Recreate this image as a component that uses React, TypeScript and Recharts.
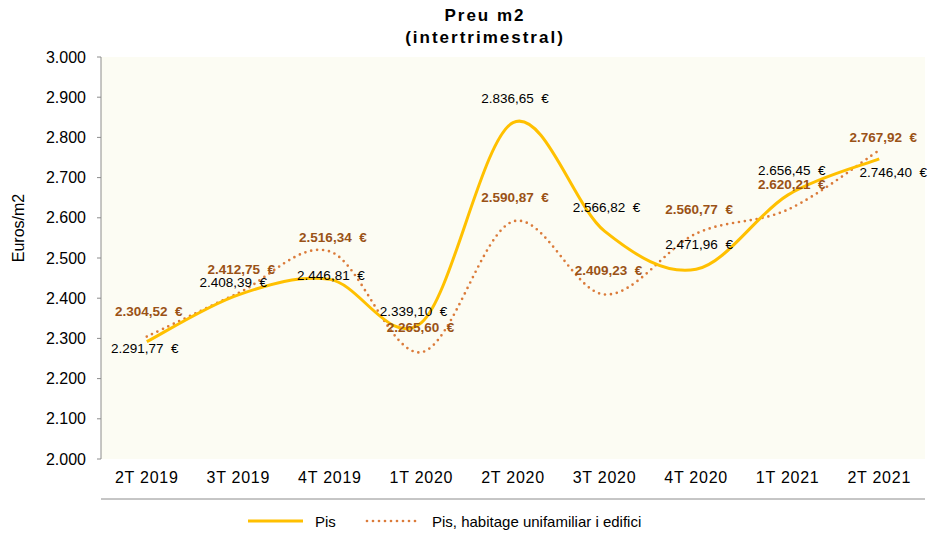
import React from "react";
import { LineChart, Line, XAxis, YAxis, CartesianGrid, LabelList } from "recharts";

const quarters = ["2T 2019", "3T 2019", "4T 2019", "1T 2020", "2T 2020", "3T 2020", "4T 2020", "1T 2021", "2T 2021"];
const pisValues = [2291.77, 2408.39, 2446.81, 2339.1, 2836.65, 2566.82, 2471.96, 2656.45, 2746.4];
const unifamiliarValues = [2304.52, 2412.75, 2516.34, 2265.6, 2590.87, 2409.23, 2560.77, 2620.21, 2767.92];
const yTicks = [2000, 2100, 2200, 2300, 2400, 2500, 2600, 2700, 2800, 2900, 3000];

const data = quarters.map((q, i) => ({ idx: i, quarter: q, pis: pisValues[i], uni: unifamiliarValues[i] }));
const categoryTicks = quarters.map((_, i) => i);
const boundaryTicks = [...quarters.map((_, i) => i - 0.5), quarters.length - 0.5];

// label offsets from the point (label centre), as placed in the original
const pisLabelOffsets = [[-2, 7], [-5, -12], [1, -4], [-8, -11], [2, -24], [2, -24], [3, -25], [4, -25], [14, 14]];
const uniLabelOffsets = [[2, -25], [3, -24], [3, -14], [-1, -25], [2, -24], [4, -24], [3, -24], [4, -25], [4, -13]];

const FONT = "'Liberation Sans', Arial, sans-serif";
const YELLOW = "#FFC000";
const DOTTED = "#DB7B3A";
const BROWN = "#9A5216";

const thousands = (v: number) => {
  const s = Math.floor(v).toString();
  return s.replace(/\B(?=(\d{3})+(?!\d))/g, ".");
};
const euro = (v: number) => {
  const [, dec] = v.toFixed(2).split(".");
  return `${thousands(v)},${dec}\u00a0\u00a0€`;
};

// Excel-like smoothed line (Catmull-Rom through the points)
const excelSmooth = (context: any) => {
  let pts: number[][] = [];
  return {
    areaStart() {},
    areaEnd() {},
    lineStart() {
      pts = [];
    },
    point(x: number, y: number) {
      pts.push([+x, +y]);
    },
    lineEnd() {
      if (!pts.length) return;
      context.moveTo(pts[0][0], pts[0][1]);
      for (let i = 0; i < pts.length - 1; i++) {
        const p0 = pts[Math.max(0, i - 1)];
        const p1 = pts[i];
        const p2 = pts[i + 1];
        const p3 = pts[Math.min(pts.length - 1, i + 2)];
        context.bezierCurveTo(
          p1[0] + (p2[0] - p0[0]) / 6,
          p1[1] + (p2[1] - p0[1]) / 6,
          p2[0] - (p3[0] - p1[0]) / 6,
          p2[1] - (p3[1] - p1[1]) / 6,
          p2[0],
          p2[1]
        );
      }
    },
  };
};

const makeLabel = (offsets: number[][], color: string, bold: boolean) => (props: any) => {
  const { x, y, value, index } = props;
  const [dx, dy] = offsets[index] || [0, -15];
  return (
    <text
      x={x + dx}
      y={y + dy}
      textAnchor="middle"
      dominantBaseline="central"
      fill={color}
      fontSize={13.5}
      fontWeight={bold ? "bold" : "normal"}
      fontFamily={FONT}
    >
      {euro(value)}
    </text>
  );
};

const Legend = () => (
  <svg width={929} height={30} style={{ position: "absolute", left: 0, top: 506 }}>
    <line x1={248} x2={303} y1={15} y2={15} stroke={YELLOW} strokeWidth={3} />
    <text x={315} y={15} dominantBaseline="central" fontSize={15} fontFamily={FONT} fill="#000">
      Pis
    </text>
    <line x1={367} x2={420} y1={15} y2={15} stroke={DOTTED} strokeWidth={2.7} strokeDasharray="0 6" strokeLinecap="round" />
    <text x={432} y={15} dominantBaseline="central" fontSize={15} fontFamily={FONT} fill="#000">
      Pis, habitage unifamiliar i edifici
    </text>
  </svg>
);

export default function App() {
  return (
    <div style={{ position: "absolute", left: 0, top: 0, width: 929, height: 533, background: "#fff", fontFamily: FONT }}>
      <div
        style={{
          position: "absolute",
          left: 335,
          top: 5,
          width: 300,
          textAlign: "center",
          fontWeight: "bold",
          fontSize: 17,
          letterSpacing: 2,
          lineHeight: "22px",
          color: "#000",
        }}
      >
        Preu m2
        <br />
        (intertrimestral)
      </div>
      <LineChart width={929} height={533} data={data} margin={{ top: 57, right: 4, bottom: 33, left: 0 }}>
        <CartesianGrid xAxisId="ticks" horizontal={false} vertical={false} fill="#FCFCF3" />
        <XAxis
          xAxisId="ticks"
          dataKey="idx"
          type="number"
          domain={[-0.5, quarters.length - 0.5]}
          ticks={boundaryTicks}
          interval={0}
          tick={false}
          tickSize={5}
          height={1}
          stroke="#8c8c8c"
          allowDataOverflow
        />
        <XAxis
          xAxisId="labels"
          dataKey="idx"
          type="number"
          domain={[-0.5, quarters.length - 0.5]}
          ticks={categoryTicks}
          interval={0}
          tickFormatter={(v: number) => quarters[v]}
          axisLine={false}
          tickLine={false}
          tickSize={0}
          tickMargin={13}
          height={40}
          tick={{ fill: "#000", fontSize: 16, fontFamily: FONT, letterSpacing: 0.75 }}
          allowDataOverflow
        />
        <YAxis
          width={101}
          domain={[2000, 3000]}
          ticks={yTicks}
          interval={0}
          tickFormatter={thousands}
          tickSize={4}
          tickMargin={11}
          stroke="#8c8c8c"
          tick={{ fill: "#000", fontSize: 16, fontFamily: FONT }}
          allowDataOverflow
          label={{
            content: () => (
              <text transform="translate(18,228) rotate(-90)" textAnchor="middle" dominantBaseline="central" fontSize={16} fontFamily={FONT} fill="#000">
                Euros/m2
              </text>
            ),
          }}
        />
        <Line
          xAxisId="ticks"
          dataKey="uni"
          type={excelSmooth as any}
          stroke={DOTTED}
          strokeWidth={2.7}
          strokeDasharray="0 6"
          strokeLinecap="round"
          dot={false}
          activeDot={false}
          isAnimationActive={false}
        >
          <LabelList dataKey="uni" content={makeLabel(uniLabelOffsets, BROWN, true)} />
        </Line>
        <Line
          xAxisId="ticks"
          dataKey="pis"
          type={excelSmooth as any}
          stroke={YELLOW}
          strokeWidth={3}
          dot={false}
          activeDot={false}
          isAnimationActive={false}
        >
          <LabelList dataKey="pis" content={makeLabel(pisLabelOffsets, "#000", false)} />
        </Line>
      </LineChart>
      <Legend />
    </div>
  );
}
